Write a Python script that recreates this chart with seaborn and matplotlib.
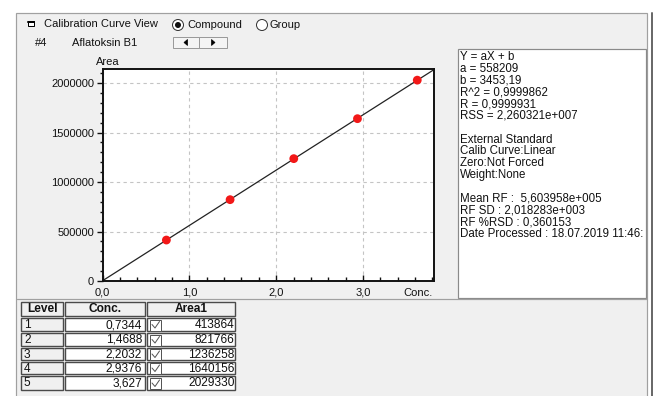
import matplotlib
matplotlib.use("Agg")
import numpy as np
import pandas as pd
import matplotlib.pyplot as plt
from matplotlib.patches import Rectangle, Circle, Polygon
from matplotlib.ticker import FixedLocator, MultipleLocator, FuncFormatter
import seaborn as sns

# ---- calibration data -------------------------------------------------
levels = [1, 2, 3, 4, 5]
conc = [0.7344, 1.4688, 2.2032, 2.9376, 3.627]
conc_text = ["0,7344", "1,4688", "2,2032", "2,9376", "3,627"]
area1 = [413864, 821766, 1236258, 1640156, 2029330]

slope = 558209
intercept = 3453.19

x_ticks = [0.0, 1.0, 2.0, 3.0]
y_ticks = [0, 500000, 1000000, 1500000, 2000000]
x_max = 3.82
y_max = 2.142e6

compound_no = "#4"
compound_name = "Aflatoksin B1"

stats_lines = [
    "Y = aX + b",
    "a = 558209",
    "b = 3453,19",
    "R^2 = 0,9999862",
    "R = 0,9999931",
    "RSS = 2,260321e+007",
    "",
    "External Standard",
    "Calib Curve:Linear",
    "Zero:Not Forced",
    "Weight:None",
    "",
    "Mean RF :  5,603958e+005",
    "RF SD : 2,018283e+003",
    "RF %RSD : 0,360153",
    "Date Processed : 18.07.2019 11:46:",
]

table_cols = ["Level", "Conc.", "Area1"]

# ---- figure setup -----------------------------------------------------
W, H = 657, 396
sns.set_theme(style="white")
plt.rcParams["font.family"] = ["Liberation Sans", "DejaVu Sans"]
FS = 8
TFS = 8.6
PANEL = "#f0f0f0"
PX = 0.72  # one pixel in points

fig = plt.figure(figsize=(W / 100, H / 100), dpi=100)
fig.patch.set_facecolor("white")

# pixel-space canvas for the window chrome
ui = fig.add_axes([0, 0, 1, 1], zorder=0)
ui.set_xlim(0, W)
ui.set_ylim(H, 0)
ui.axis("off")

ui.add_patch(Rectangle((16, 13), 631, 390, facecolor=PANEL,
                       edgecolor="#a0a0a0", lw=1.2 * PX))
ui.plot([652, 652], [13, H], color="#6a6a6a", lw=2 * PX)
ui.plot([17, 647], [299, 299], color="#a0a0a0", lw=1.2 * PX)

# header row
ui.add_patch(Rectangle((28, 21), 6, 5, facecolor="white", edgecolor="black", lw=1 * PX))
ui.plot([28, 34], [21.5, 21.5], color="black", lw=2 * PX)
ui.text(44, 24, "Calibration Curve View", fontsize=FS, va="center", ha="left", color="#111")

ui.add_patch(Circle((178, 25), 5.5, facecolor="white", edgecolor="#333", lw=1 * PX))
ui.add_patch(Circle((178, 25), 3, facecolor="#111", edgecolor="none"))
ui.text(187, 25, "Compound", fontsize=FS, va="center", ha="left", color="#111")
ui.add_patch(Circle((262, 25), 5.5, facecolor="white", edgecolor="#333", lw=1 * PX))
ui.text(270, 25, "Group", fontsize=FS, va="center", ha="left", color="#111")

ui.text(35, 43, compound_no, fontsize=FS, va="center", ha="left", color="#111")
ui.text(72, 43, compound_name, fontsize=FS, va="center", ha="left", color="#111")

ui.add_patch(Rectangle((173, 37), 26, 11, facecolor="#f4f4f4", edgecolor="#9a9a9a", lw=1 * PX))
ui.add_patch(Rectangle((199, 37), 28, 11, facecolor="#f4f4f4", edgecolor="#9a9a9a", lw=1 * PX))
ui.add_patch(Polygon([[187.5, 39.5], [187.5, 45.5], [184, 42.5]], closed=True,
                     facecolor="black", edgecolor="black", lw=0.5))
ui.add_patch(Polygon([[211.5, 39.5], [211.5, 45.5], [215, 42.5]], closed=True,
                     facecolor="black", edgecolor="black", lw=0.5))

# statistics box
box = Rectangle((458, 49), 188, 249, facecolor="white", edgecolor="#8a8a8a", lw=1.2 * PX)
ui.add_patch(box)
for i, line in enumerate(stats_lines):
    t = ui.text(460, 57 + i * 11.8, line, fontsize=8.3, va="center", ha="left", color="#111")
    t.set_clip_path(box)

# ---- calibration plot -------------------------------------------------
ax = fig.add_axes([102.7 / W, 1 - 281 / H, 331.3 / W, 212 / H], zorder=1)
ax.set_facecolor("white")

fit_x = np.array([0.0, x_max])
fit = pd.DataFrame({"x": fit_x, "y": slope * fit_x + intercept})
pts = pd.DataFrame({"Conc.": conc, "Area1": area1})

sns.lineplot(data=fit, x="x", y="y", color="#222222", lw=0.9, ax=ax, zorder=2)
sns.scatterplot(data=pts, x="Conc.", y="Area1", color="#f21818", s=40,
                edgecolor="none", ax=ax, zorder=3)

ax.set_xlim(0, x_max)
ax.set_ylim(0, y_max)
ax.set_xlabel("")
ax.set_ylabel("")

ax.xaxis.set_major_locator(FixedLocator(x_ticks))
ax.xaxis.set_minor_locator(MultipleLocator(0.2))
ax.yaxis.set_major_locator(FixedLocator(y_ticks))
ax.yaxis.set_minor_locator(MultipleLocator(100000))
ax.xaxis.set_major_formatter(FuncFormatter(lambda v, p: f"{v:.1f}".replace(".", ",")))
ax.yaxis.set_major_formatter(FuncFormatter(lambda v, p: f"{int(round(v))}"))

ax.tick_params(axis="x", which="major", direction="in", length=4, width=1, pad=5,
               labelsize=FS, colors="#111", bottom=True)
ax.tick_params(axis="x", which="minor", direction="in", length=3, width=1,
               colors="#111", bottom=True)
ax.tick_params(axis="y", which="major", direction="out", length=4.3, width=1, pad=2,
               labelsize=FS, colors="#111", left=True)
ax.tick_params(axis="y", which="minor", direction="out", length=2.2, width=1,
               colors="#111", left=True)

ax.grid(True, which="major", linestyle=(0, (3, 3)), color="#c4c4c4", lw=0.8)
for s in ax.spines.values():
    s.set_color("#111")
    s.set_linewidth(1.4)

ui.text(108, 62, "Area", fontsize=FS, va="center", ha="center", color="#111")
ui.text(433, 292.5, "Conc.", fontsize=FS, va="center", ha="right", color="#111")

# ---- data table -------------------------------------------------------
col_edges = [20, 64, 146, 236]
row_edges = [301, 317, 332, 347, 361, 375, 391]


def cell(x0, x1, y0, y1, fc):
    ui.add_patch(Rectangle((x0 + 0.8, y0 + 0.8), x1 - x0 - 1.6, y1 - y0 - 1.6,
                           facecolor=fc, edgecolor="#4a4a4a", lw=1.4 * PX, zorder=3))


for c, name in enumerate(table_cols):
    x0, x1 = col_edges[c], col_edges[c + 1]
    cell(x0, x1, row_edges[0], row_edges[1], PANEL)
    ui.text((x0 + x1) / 2, (row_edges[0] + row_edges[1]) / 2 + 0.5, name, fontsize=TFS,
            fontweight="bold", ha="center", va="center", color="#111", zorder=4)

for r in range(len(levels)):
    y0, y1 = row_edges[r + 1], row_edges[r + 2]
    ym = (y0 + y1) / 2 + 0.5
    cell(col_edges[0], col_edges[1], y0, y1, PANEL)
    ui.text(col_edges[0] + 4, ym, str(levels[r]), fontsize=TFS, ha="left", va="center",
            color="#111", zorder=4)
    cell(col_edges[1], col_edges[2], y0, y1, "white")
    ui.text(col_edges[2] - 4, ym, conc_text[r], fontsize=TFS, ha="right", va="center",
            color="#111", zorder=4)
    cell(col_edges[2], col_edges[3], y0, y1, "white")
    ui.add_patch(Rectangle((150, ym - 5.5), 11, 11, facecolor="white", edgecolor="#555",
                           lw=1 * PX, zorder=4))
    ui.plot([152, 155, 159.5], [ym - 0.5, ym + 3, ym - 3.5], color="#555", lw=1 * PX, zorder=5)
    ui.text(col_edges[3] - 1.5, ym, str(area1[r]), fontsize=TFS, ha="right", va="center",
            color="#111", zorder=4)

fig.savefig("out.png", dpi=100, facecolor="white")
